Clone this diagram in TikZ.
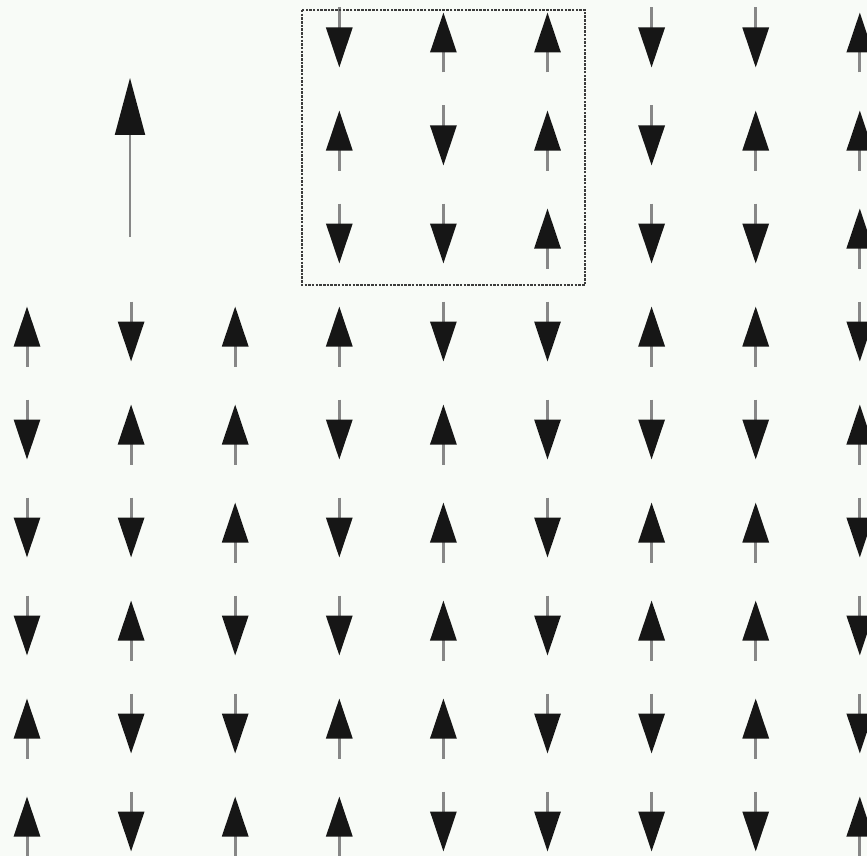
\documentclass[tikz,border=0pt]{standalone}
\usepackage{xcolor}
\usepackage{tikz}
\usetikzlibrary{
  arrows.meta
}
\definecolor{PaperWhite}{RGB}{248, 251, 247}
\definecolor{ShaftGray}{RGB}{135, 135, 135}
\definecolor{SpinBlack}{RGB}{22, 22, 22}
\definecolor{FrameGray}{RGB}{60, 60, 60}
\tikzset{
    spin/.style={draw=ShaftGray, line width=3pt,
        -{Triangle[length=40pt, width=26pt, color=SpinBlack]}},
    bigspin/.style={draw=ShaftGray, line width=2pt,
        -{Triangle[length=57pt, width=30pt, color=SpinBlack]}},
    cellframe/.style={draw=FrameGray, line width=2pt, dash pattern=on 2.5pt off 1.2pt}
}

\begin{document}
\begin{tikzpicture}[x=1pt, y=-1pt]
    \fill[PaperWhite] (0,0) rectangle (867,856);
    \useasboundingbox (0,0) rectangle (867,856);
    \clip (0,0) rectangle (867,856);

    % lattice of spins (1 = up, -1 = down, 0 = empty)
    \foreach \row [count=\r] in {
        {0,0,0,-1,1,1,-1,-1,1},
        {0,0,0,1,-1,1,-1,1,1},
        {0,0,0,-1,-1,1,-1,-1,1},
        {1,-1,1,1,-1,-1,1,1,-1},
        {-1,1,1,-1,1,-1,-1,-1,1},
        {-1,-1,1,-1,1,-1,1,1,-1},
        {-1,1,-1,-1,1,-1,1,1,-1},
        {1,-1,-1,1,1,-1,-1,1,-1},
        {1,-1,1,1,-1,-1,-1,-1,1}}{
        \foreach \s [count=\c] in \row {
            \pgfmathsetmacro{\px}{27+(\c-1)*104.1}
            \pgfmathsetmacro{\py}{40+(\r-1)*98}
            \ifnum\s=0 \else
                \draw[spin] (\px, \py+32.5*\s) -- (\px, \py-27.5*\s);
            \fi
        }
    }

    % reference spin
    \coordinate (bigtail) at (130,237);
    \coordinate (bighead) at (130,78);
    \draw[bigspin] (bigtail) -- (bighead);

    % unit cell
    \coordinate (cellnw) at (302,10);
    \coordinate (cellse) at (585,285);
    \draw[cellframe] (cellnw) rectangle (cellse);
\end{tikzpicture}
\end{document}
